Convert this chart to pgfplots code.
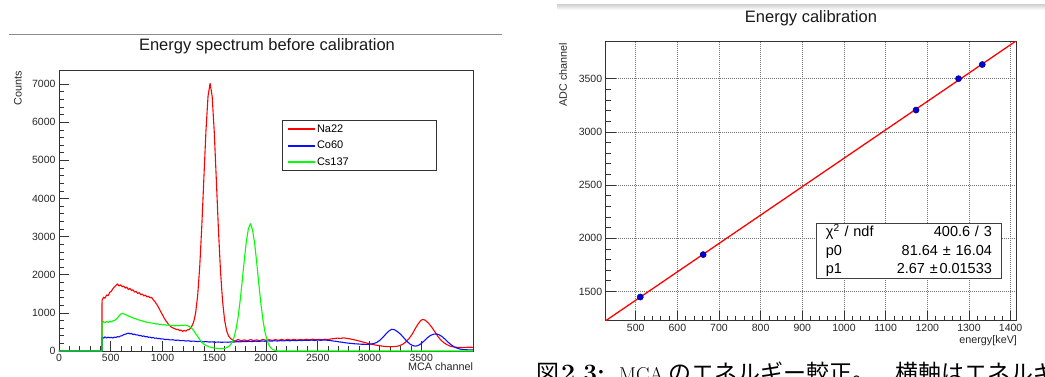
\documentclass[border=0pt]{standalone}
\usepackage{fontspec}
\usepackage{pgfplots}
\pgfplotsset{compat=1.18}
\newfontfamily\hv{Liberation Sans}
\newfontfamily\cjk{Noto Sans CJK JP}

\definecolor{naRed}{rgb}{1,0,0}
\definecolor{coBlue}{rgb}{0.05,0.05,1}
\definecolor{csGreen}{rgb}{0,1,0}

\pgfplotsset{
  rootframe/.style={
    scale only axis, anchor=south west,
    axis line style={black!80, line width=0.9pt},
    tick style={black!80, line width=0.7pt},
    major tick length=10pt, minor tick length=5pt,
    tick pos=left, tick align=inside,
    scaled ticks=false,
    /pgf/number format/assume math mode=true,
    /pgf/number format/1000 sep={},
    tick label style={font=\hv\fontsize{10.5}{12}\selectfont, text=black!85},
    label style={font=\hv\fontsize{10.8}{12}\selectfont, text=black!85},
  },
  bandkey/.style={legend image code/.code={\fill[#1] (0pt,-0.65pt) rectangle (26.6pt,0.65pt);}},
}

\begin{document}
\begin{tikzpicture}[x=1pt,y=1pt]

% pad decorations
\draw[black!45, line width=0.8pt] (9pt,342pt) -- (502pt,342pt);
\shade[top color=black!16, bottom color=white] (557pt,366pt) rectangle (1045pt,371pt);

% ---------------- raw MCA spectra ----------------
\begin{axis}[rootframe,
  at={(59pt,25pt)}, width=414pt, height=281pt,
  xmin=0, xmax=4000, ymin=0, ymax=7370,
  xtick={0,500,1000,1500,2000,2500,3000,3500}, minor x tick num=4,
  ytick={0,1000,2000,3000,4000,5000,6000,7000}, minor y tick num=4,
  xlabel={MCA channel},
  xlabel style={at={(axis description cs:1,0)}, anchor=north east, xshift=3.5pt, yshift=-8pt},
  ylabel={Counts},
  ylabel style={at={(axis description cs:-0.099,1.007)}, anchor=east},
  legend style={at={(axis cs:2158,6057)}, anchor=north west,
    draw=black!80, line width=0.9pt,
    font=\hv\fontsize{11}{13}\selectfont,
    inner xsep=4.7pt, inner ysep=2pt, row sep=3.4pt},
  legend cell align=left,
]
\addlegendimage{bandkey, naRed}
\addlegendentry{\makebox[113pt][l]{Na22}}
\addlegendimage{bandkey, coBlue}
\addlegendentry{\makebox[113pt][l]{Co60}}
\addlegendimage{bandkey, csGreen}
\addlegendentry{\makebox[113pt][l]{Cs137}}
% Na22
\addplot[forget plot, draw=naRed, line width=1.1pt, line join=round] coordinates {
(0,0) (415,0) (416,1330) (430,1410) (445,1385) (460,1470) (475,1455) (490,1540)
(505,1565) (520,1630) (535,1680) (550,1720) (565,1760) (580,1705) (595,1735)
(610,1685) (625,1705) (640,1650) (655,1675) (670,1610) (685,1645) (700,1590)
(715,1605) (730,1545) (745,1565) (760,1510) (775,1530) (790,1475) (805,1495)
(820,1445) (835,1465) (850,1420) (865,1435) (880,1395) (895,1405) (910,1345)
(925,1300) (940,1240) (955,1180) (970,1100) (985,1020) (1000,950) (1015,870)
(1030,800) (1045,750) (1060,690) (1075,650) (1090,620) (1105,600) (1120,585)
(1135,560) (1150,570) (1165,535) (1180,550) (1195,515) (1210,540) (1225,520)
(1240,555) (1255,560) (1270,600) (1285,660) (1300,750) (1320,995) (1340,1460)
(1360,2225) (1380,3290) (1400,4550) (1420,5780) (1440,6685) (1460,7020)
(1480,6675) (1500,5750) (1520,4495) (1540,3210) (1560,2115) (1580,1320)
(1600,810) (1620,525) (1640,385) (1660,320) (1680,290) (1700,262) (1730,300)
(1760,268) (1790,292) (1820,266) (1850,300) (1880,274) (1910,292) (1940,270)
(1970,302) (2000,280) (2030,296) (2060,276) (2090,300) (2120,280) (2150,302)
(2180,282) (2210,305) (2240,285) (2270,306) (2300,286) (2330,302) (2360,290)
(2390,308) (2420,292) (2450,310) (2480,296) (2510,306) (2540,298) (2570,308)
(2600,302) (2630,318) (2660,326) (2690,338) (2720,330) (2750,345) (2780,332)
(2810,318) (2840,302) (2870,282) (2900,262) (2930,240) (2960,218) (2990,196)
(3020,178) (3050,160) (3080,146) (3110,134) (3140,122) (3170,116) (3200,112)
(3230,114) (3260,122) (3290,140) (3320,175) (3350,235) (3380,320) (3410,430)
(3440,580) (3470,710) (3495,800) (3515,830) (3540,805) (3570,730) (3600,630)
(3630,510) (3660,385) (3690,285) (3720,215) (3750,165) (3780,128) (3810,108)
(3840,98) (3870,92) (3900,90) (3930,96) (3960,100) (3999,96)
};
% Co60
\addplot[forget plot, draw=coBlue, line width=1.1pt, line join=round] coordinates {
(0,0) (415,0) (416,360) (430,335) (445,370) (460,340) (475,365) (490,345)
(505,360) (520,340) (535,365) (550,355) (565,375) (580,370) (595,395) (610,400)
(625,430) (640,440) (655,455) (670,470) (685,450) (700,460) (715,430) (730,445)
(745,420) (760,425) (775,400) (790,410) (805,385) (820,395) (835,370) (850,380)
(865,360) (880,365) (895,345) (910,355) (925,335) (940,340) (955,325) (970,330)
(985,315) (1000,320) (1025,300) (1050,305) (1075,290) (1100,295) (1125,280)
(1150,285) (1175,270) (1200,275) (1225,262) (1250,268) (1275,255) (1300,260)
(1330,248) (1360,252) (1390,240) (1420,246) (1450,235) (1480,240) (1510,230)
(1540,236) (1570,228) (1600,234) (1630,230) (1660,238) (1690,235) (1720,245)
(1750,240) (1780,250) (1810,244) (1840,254) (1870,248) (1900,258) (1930,252)
(1960,262) (1990,256) (2020,266) (2050,258) (2080,268) (2110,262) (2140,272)
(2170,265) (2200,275) (2230,268) (2260,278) (2290,270) (2320,280) (2350,274)
(2380,284) (2410,276) (2440,286) (2470,279) (2500,288) (2530,280) (2560,290)
(2590,282) (2620,276) (2650,262) (2680,252) (2710,238) (2740,228) (2770,215)
(2800,205) (2830,198) (2860,188) (2890,184) (2920,178) (2950,176) (2980,174)
(3010,180) (3040,195) (3070,225) (3100,280) (3130,360) (3160,450) (3190,530)
(3215,570) (3240,560) (3270,510) (3300,440) (3330,350) (3360,260) (3390,185)
(3420,140) (3445,128) (3470,145) (3500,195) (3530,270) (3560,350) (3590,410)
(3620,440) (3645,448) (3670,430) (3700,380) (3730,310) (3760,230) (3790,160)
(3820,105) (3850,70) (3880,48) (3910,36) (3940,32) (3970,30) (3999,30)
};
% Cs137
\addplot[forget plot, draw=csGreen, line width=1.1pt, line join=round] coordinates {
(0,0) (415,0) (416,740) (430,770) (445,745) (460,775) (475,750) (490,780)
(505,760) (520,790) (535,800) (550,830) (565,870) (580,920) (595,960) (610,990)
(625,975) (640,960) (655,940) (670,920) (685,905) (700,880) (715,870) (730,850)
(745,845) (760,820) (775,815) (790,795) (805,790) (820,770) (835,768) (850,750)
(865,752) (880,735) (895,738) (910,720) (925,725) (940,705) (955,712) (970,695)
(985,702) (1000,685) (1020,692) (1040,675) (1060,682) (1080,665) (1100,672)
(1120,660) (1140,668) (1160,662) (1180,675) (1200,670) (1220,680) (1240,665)
(1260,640) (1280,600) (1300,540) (1320,460) (1340,380) (1360,300) (1380,230)
(1400,180) (1425,140) (1450,110) (1475,90) (1500,78) (1525,70) (1550,65)
(1575,66) (1600,70) (1610,78) (1630,101) (1650,145) (1670,220) (1690,349)
(1710,563) (1730,883) (1750,1313) (1770,1830) (1790,2377) (1810,2869)
(1830,3210) (1850,3340) (1870,3175) (1890,2829) (1910,2332) (1930,1780)
(1950,1258) (1970,823) (1990,498) (2010,279) (2030,145) (2050,70) (2070,31)
(2090,13) (2110,0) (3999,0)
};
\end{axis}

% ---------------- calibration fit ----------------
\begin{axis}[rootframe,
  at={(605.7pt,55.3pt)}, width=410.3pt, height=279.7pt,
  xmin=428, xmax=1413, ymin=1224.4, ymax=3854.35,
  xtick={500,600,700,800,900,1000,1100,1200,1300,1400}, minor x tick num=4,
  ytick={1500,2000,2500,3000,3500}, minor y tick num=4,
  grid=major,
  grid style={black!55, line width=0.5pt, dash pattern=on 0.8pt off 1.2pt},
  xlabel={energy[keV]},
  xlabel style={at={(axis description cs:1,0)}, anchor=north east, xshift=4.5pt, yshift=-11pt},
  ylabel={ADC channel},
  ylabel style={at={(axis description cs:-0.104,1.005)}, anchor=east},
]
% p0 + p1*E over the fitted range
\addplot[draw=naRed, line width=1.3pt] coordinates {(428,1224.40) (1413,3854.35)};
\addplot[only marks, mark=*, mark size=3.1pt,
  mark options={fill=blue!85!black, draw=blue!45!black, line width=0.4pt}]
  coordinates {(511,1447) (662,1846) (1173,3205) (1275,3500) (1332,3633)};
\node[draw=black!75, line width=0.9pt, fill=white, anchor=north west,
  minimum width=185pt, minimum height=55pt, inner xsep=9.5pt, inner ysep=0pt,
  text width=166pt, align=left,
  font=\hv\fontsize{14.5}{18.5}\selectfont]
  at (rel axis cs:0.5125,0.3504) {%
  χ\textsuperscript{2} / ndf\hfill 400.6 / 3\\
  p0\hfill 81.64 ± 16.04\\
  p1\hfill 2.67 ±\hspace{0.12em}0.01533};
\end{axis}

% titles
\node[anchor=base, font=\hv\fontsize{16.5}{19}\selectfont, text=black!90] at (267pt,325.3pt) {Energy spectrum before calibration};
\node[anchor=base, font=\hv\fontsize{16.5}{19}\selectfont, text=black!90] at (811pt,353.7pt) {Energy calibration};

% caption line
\node[anchor=base west, inner sep=0pt, font=\cjk\fontsize{23}{23}\selectfont] at (536pt,-5pt) {図};
\node[anchor=base west, inner sep=0pt, font=\fontsize{25}{25}\selectfont\bfseries] at (561pt,-5pt) {2.3:};
\node[anchor=base west, inner sep=0pt, font=\fontsize{20}{20}\selectfont] at (619pt,-5pt) {MCA};
\node[anchor=base west, inner sep=0pt, font=\cjk\fontsize{23}{23}\selectfont] at (668pt,-5pt) {のエネルギー較正。};
\node[anchor=base west, inner sep=0pt, font=\cjk\fontsize{23}{23}\selectfont] at (895pt,-5pt) {横軸はエネルギー};

\pgfresetboundingbox
\path[use as bounding box] (0pt,0pt) rectangle (1045pt,376pt);
\end{tikzpicture}
\end{document}
